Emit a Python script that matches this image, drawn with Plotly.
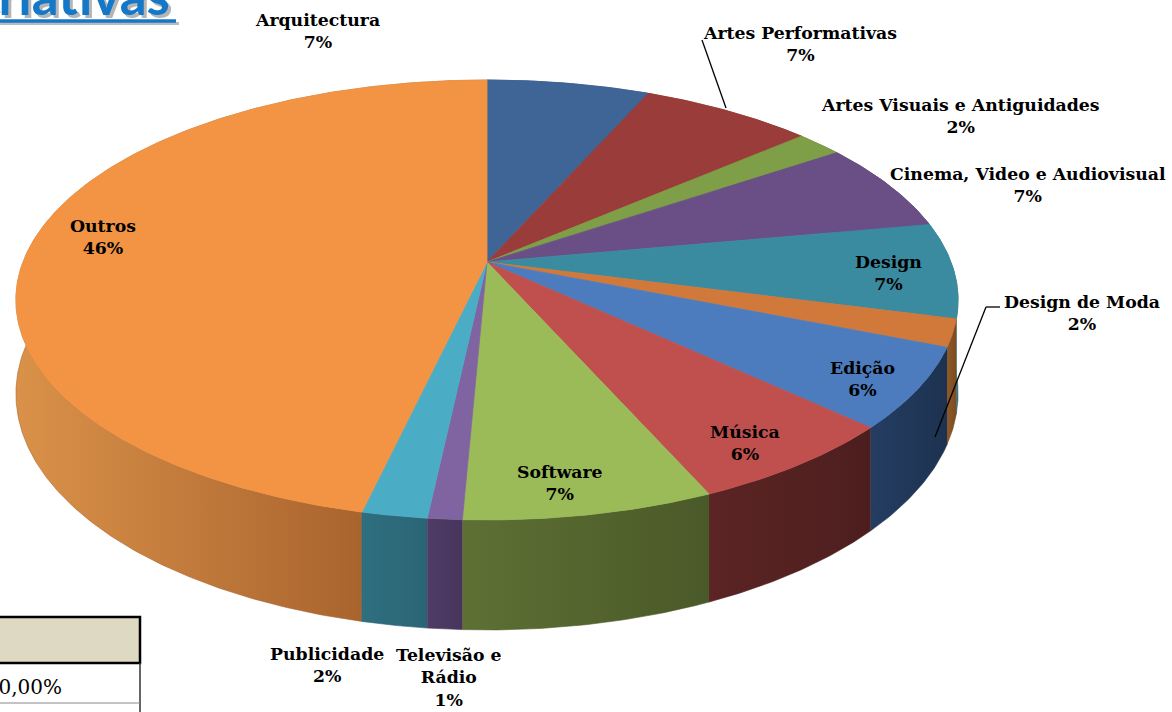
import numpy as np
import plotly.graph_objects as go

# ---------------- data ----------------
categories = ["Arquitectura", "Artes Performativas", "Artes Visuais e Antiguidades",
              "Cinema, Video e Audiovisual", "Design", "Design de Moda", "Edição",
              "Música", "Software", "Televisão e Rádio", "Publicidade", "Outros"]
shares = [6.6, 7.0, 1.9, 6.6, 7.0, 2.0, 5.9, 6.4, 7.3, 1.0, 1.9, 46.4]
label_names = ["Arquitectura", "Artes Performativas", "Artes Visuais e Antiguidades",
               "Cinema, Video e Audiovisual", "Design", "Design de Moda", "Edição",
               "Música", "Software", "Televisão e<br>Rádio", "Publicidade", "Outros"]
table_value = "100,00%"
title_text = "Indústrias Criativas"

# ---------------- styles ----------------
top_colors = ["#3E6596", "#9A3D3A", "#7E9E48", "#6A4F86", "#3A8BA0", "#D1793A",
              "#4C7CBE", "#C0504D", "#9BBB59", "#8064A2", "#4BACC6", "#F29444"]
wall_colors = [("#2C4A70", "#2C4A70"), ("#6E2B29", "#6E2B29"), ("#5A7233", "#5A7233"),
               ("#4A375E", "#4A375E"), ("#2F7385", "#2A6677"), ("#8F5A28", "#7A4A20"),
               ("#243D62", "#1D3250"), ("#5C2424", "#4D1E1E"), ("#5E7034", "#4A5928"),
               ("#4F3C67", "#47355C"), ("#2F6F80", "#2A6575"), ("#DA9149", "#A9642E")]
# label anchor positions (pixel layout of the chart, x, y-centre), in category order
label_pos = [(317, 31), (800, 44), (960, 116), (1028, 185), (888, 273), (1082, 313),
             (862, 379), (745, 443), (560, 483), (449, 677), (327, 665), (103, 237)]

W, Hh = 1172, 712
CX, CY = 487, 262      # hub of the pie
A, B = 464, 213.4      # horizontal / vertical radius
K = 0.1727             # perspective factor
DEPTH = 91             # thickness of the pie


def proj(theta_deg):
    t = np.radians(theta_deg)
    u, v = np.sin(t), np.cos(t)
    w = 1 + K * v
    return CX + A * u / w, CY - B * v / w, DEPTH / w, v


fig = go.Figure()

total = sum(shares)
angles = np.cumsum([0] + [s / total * 360 for s in shares])

# --- walls (back to front) ---
walls = []
for i in range(len(shares)):
    a0, a1 = angles[i], angles[i + 1]
    th = np.linspace(a0, a1, max(8, int((a1 - a0) * 2)))
    x, y, d, v = proj(th)
    walls.append((np.mean(v), i, x, y, d, v))
walls.sort(key=lambda t: -t[0])
for _, i, x, y, d, v in walls:
    px = np.concatenate([x, x[::-1]])
    py = np.concatenate([y, (y + d)[::-1]])
    vis = v <= -K * 0.9
    if vis.any():
        xs, xe = float(x[vis].min()), float(x[vis].max())
    else:
        xs, xe = float(x.min()), float(x.max())
    if xe - xs < 1:
        xe = xs + 1
    c0, c1 = wall_colors[i]
    fig.add_trace(go.Scatter(
        x=px, y=py, mode="lines", fill="toself",
        line=dict(width=0.6, color=c1),
        fillgradient=dict(type="horizontal", colorscale=[[0, c0], [1, c1]],
                          start=xs, stop=xe),
        hoverinfo="skip", showlegend=False))

# --- top faces ---
for i in range(len(shares)):
    a0, a1 = angles[i], angles[i + 1]
    th = np.linspace(a0, a1, max(8, int((a1 - a0) * 2)))
    x, y, d, v = proj(th)
    px = np.concatenate([[CX], x, [CX]])
    py = np.concatenate([[CY], y, [CY]])
    fig.add_trace(go.Scatter(
        x=px, y=py, mode="lines", fill="toself", fillcolor=top_colors[i],
        line=dict(width=0.8, color=top_colors[i]),
        name=categories[i], hoverinfo="name", showlegend=False))

# --- labels ---
annotations = []
for idx in range(len(shares)):
    pct = round(shares[idx] / total * 100)
    lx, ly = label_pos[idx]
    annotations.append(dict(
        x=lx, y=ly, xref="x", yref="y", showarrow=False,
        text=f"<b>{label_names[idx]}<br>{pct}%</b>",
        font=dict(family="DejaVu Serif", size=17.3, color="#000000"),
        align="center", xanchor="center", yanchor="middle"))

# leader lines
shapes = [
    dict(type="line", xref="x", yref="y", x0=702, y0=40, x1=726, y1=108,
         line=dict(color="black", width=1.3)),
    dict(type="line", xref="x", yref="y", x0=1000, y0=307, x1=986, y1=307,
         line=dict(color="black", width=1.3)),
    dict(type="line", xref="x", yref="y", x0=986, y0=307, x1=935, y1=437,
         line=dict(color="black", width=1.3)),
]

# --- spreadsheet fragment bottom-left ---
shapes += [
    dict(type="rect", xref="x", yref="y", x0=-10, x1=140, y0=617, y1=663,
         fillcolor="#DDD9C3", line=dict(color="black", width=2.5), layer="above"),
    dict(type="line", xref="x", yref="y", x0=140, y0=663, x1=140, y1=712,
         line=dict(color="#333333", width=1.5)),
    dict(type="line", xref="x", yref="y", x0=-10, y0=703, x1=140, y1=703,
         line=dict(color="#888888", width=1)),
]
annotations.append(dict(
    x=64, y=687, xref="x", yref="y", showarrow=False, text=table_value,
    font=dict(family="DejaVu Serif", size=20, color="#000000"),
    xanchor="right", yanchor="middle"))

# --- cut-off title at top-left ---
for dx, dy, col in [(3, 3, "rgba(120,120,120,0.55)"), (0, 0, "#1478C8")]:
    annotations.append(dict(
        x=172 + dx, y=28.5 + dy, xref="x", yref="y", showarrow=False,
        text=f"<b>{title_text}</b>",
        font=dict(family="Lato", size=53, color=col),
        xanchor="right", yanchor="bottom"))
shapes += [
    dict(type="line", xref="x", yref="y", x0=-5, y0=23.5, x1=179, y1=23.5,
         line=dict(color="rgba(120,120,120,0.5)", width=3)),
    dict(type="line", xref="x", yref="y", x0=-5, y0=21, x1=176, y1=21,
         line=dict(color="#1478C8", width=3.5)),
]

fig.update_layout(
    width=W, height=Hh,
    margin=dict(l=0, r=0, t=0, b=0),
    paper_bgcolor="white", plot_bgcolor="white",
    xaxis=dict(range=[0, W], visible=False, fixedrange=True),
    yaxis=dict(range=[Hh, 0], visible=False, fixedrange=True),
    annotations=annotations, shapes=shapes, showlegend=False,
)

fig.write_html("out.html",
               config={"displayModeBar": False},
               post_script="document.body.style.margin='0px';"
                           "document.body.style.overflow='hidden';")
